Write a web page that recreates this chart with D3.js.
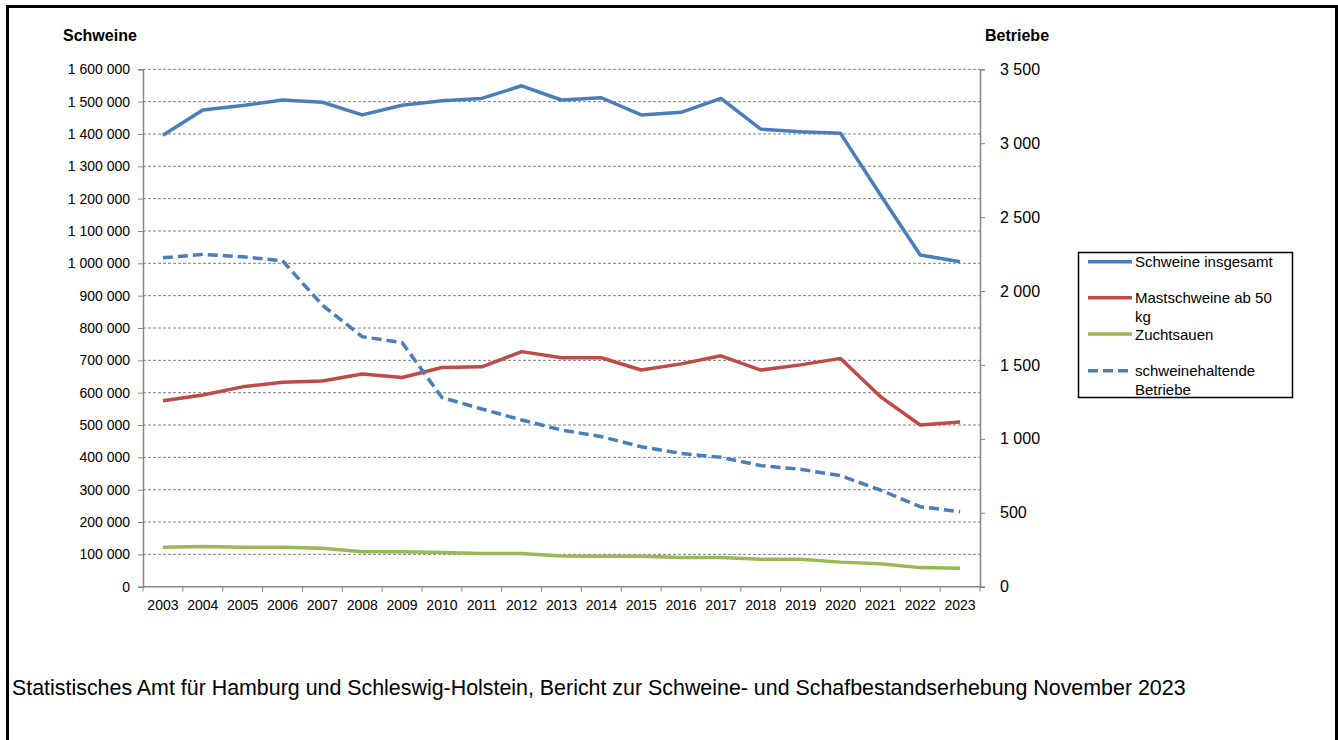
<!DOCTYPE html>
<html>
<head>
<meta charset="utf-8">
<script src="https://cdn.jsdelivr.net/npm/d3@7"></script>
<style>
  body { margin: 0; background: #fff; }
  svg text { font-family: "Liberation Sans", Arial, sans-serif; fill: #000; }
</style>
</head>
<body>
<div id="chart"></div>
<script>
// data
var years = ["2003","2004","2005","2006","2007","2008","2009","2010","2011","2012","2013",
             "2014","2015","2016","2017","2018","2019","2020","2021","2022","2023"]

var schweineInsgesamt = [1396000, 1474000, 1488000, 1505000, 1498000, 1459000, 1489000, 1503000,
                         1510000, 1549000, 1505000, 1512000, 1459000, 1467000, 1510000, 1415000,
                         1407000, 1402000, 1212000, 1026000, 1005000]
var mastschweine = [575000, 593000, 618000, 632000, 636000, 658000, 647000, 678000, 680000, 727000,
                    708000, 708000, 670000, 689000, 714000, 670000, 686000, 706000, 588000, 500000, 509000]
var zuchtsauen = [122000, 124000, 122000, 122000, 119000, 108000, 108000, 106000, 103000, 103000,
                  95000, 94000, 94000, 90000, 90000, 85000, 85000, 76000, 71000, 59000, 57000]
var betriebe = [2225, 2248, 2232, 2205, 1905, 1691, 1651, 1280, 1202, 1128, 1060, 1015, 947, 902,
                875, 819, 794, 751, 654, 541, 507]

var leftTicks = d3.range(0, 1600001, 100000)
var rightTicks = d3.range(0, 3501, 500)

var legendLabels = [["Schweine insgesamt"], ["Mastschweine ab 50", "kg"], ["Zuchtsauen"],
                    ["schweinehaltende", "Betriebe"]]

var width = 1338,
    height = 740,
    plotLeft = 143,
    plotRight = 980,
    plotTop = 69.3,
    plotBottom = 586.7

var blue = "#4a7ebb", red = "#be4b48", green = "#98b954"

var svg = d3.select("#chart")
  .append("svg")
    .attr("width", width)
    .attr("height", height)

// frame round the whole picture
svg.append("rect")
  .attr("x", 7.5).attr("y", 6.5)
  .attr("width", 1329).attr("height", 745)
  .attr("fill", "none")
  .attr("stroke", "#000")
  .attr("stroke-width", 3)

var x = d3.scaleBand()
  .domain(years)
  .range([plotLeft, plotRight])

var yLeft = d3.scaleLinear()
  .domain([0, 1600000])
  .range([plotBottom, plotTop])

var yRight = d3.scaleLinear()
  .domain([0, 3500])
  .range([plotBottom, plotTop])

var de = d3.formatLocale({decimal: ",", thousands: " ", grouping: [3], currency: ["", ""]})
var fmt = de.format(",d")

// dashed gridlines
svg.append("g")
  .selectAll("line")
  .data(leftTicks.filter(function(d) { return d > 0 }))
  .enter()
  .append("line")
    .attr("x1", plotLeft).attr("x2", plotRight)
    .attr("y1", function(d) { return yLeft(d) })
    .attr("y2", function(d) { return yLeft(d) })
    .attr("stroke", "#808080")
    .attr("stroke-width", 1)
    .attr("stroke-dasharray", "3,2")

// left axis
var gLeft = svg.append("g")
  .attr("transform", "translate(" + plotLeft + ",0)")
  .call(d3.axisLeft(yLeft).tickValues(leftTicks).tickFormat(fmt).tickSize(5).tickPadding(8))
gLeft.selectAll("text").style("font-size", "14px")

// right axis
var gRight = svg.append("g")
  .attr("transform", "translate(" + plotRight + ",0)")
  .call(d3.axisRight(yRight).tickValues(rightTicks).tickFormat(fmt).tickSize(5).tickPadding(15))
gRight.selectAll("text").style("font-size", "16px")

// bottom axis, ticks sit between the categories
var gBottom = svg.append("g")
  .attr("transform", "translate(0," + plotBottom + ")")
  .call(d3.axisBottom(x).tickSize(0).tickPadding(13))
gBottom.selectAll("text").style("font-size", "14px")
gBottom.selectAll(".tick line").remove()
gBottom.selectAll("line.sep")
  .data(years.concat(["end"]))
  .enter()
  .append("line")
    .attr("class", "sep")
    .attr("x1", function(d) { return d == "end" ? plotRight : x(d) })
    .attr("x2", function(d) { return d == "end" ? plotRight : x(d) })
    .attr("y1", 0).attr("y2", 5)
    .attr("stroke", "#868686")

svg.selectAll(".domain, .tick line")
  .attr("stroke", "#868686")
  .attr("stroke-width", 1.5)
svg.selectAll(".tick line").attr("stroke-width", 1)
gBottom.select(".domain").attr("d", "M" + plotLeft + ",0H" + plotRight)

// axis titles
svg.append("text")
  .attr("x", 63).attr("y", 41)
  .style("font-size", "16px").style("font-weight", "bold")
  .text("Schweine")
svg.append("text")
  .attr("x", 985).attr("y", 41)
  .style("font-size", "16px").style("font-weight", "bold")
  .text("Betriebe")

var cx = function(d, i) { return x(years[i]) + x.bandwidth() / 2 }

var lineLeft = d3.line().x(cx).y(function(d) { return yLeft(d) })
var lineRight = d3.line().x(cx).y(function(d) { return yRight(d) })

var series = [
  {values: zuchtsauen, color: green, line: lineLeft, dash: null},
  {values: mastschweine, color: red, line: lineLeft, dash: null},
  {values: schweineInsgesamt, color: blue, line: lineLeft, dash: null},
  {values: betriebe, color: blue, line: lineRight, dash: "10,5"}
]

svg.append("g")
  .selectAll("path")
  .data(series)
  .enter()
  .append("path")
    .attr("d", function(d) { return d.line(d.values) })
    .attr("fill", "none")
    .attr("stroke", function(d) { return d.color })
    .attr("stroke-width", 3.5)
    .attr("stroke-linejoin", "round")
    .attr("stroke-dasharray", function(d) { return d.dash })

// legend
var legend = svg.append("g")
legend.append("rect")
  .attr("x", 1078.5).attr("y", 252.5)
  .attr("width", 214).attr("height", 145)
  .attr("fill", "#fff")
  .attr("stroke", "#000")
  .attr("stroke-width", 1.5)

var legendItems = [
  {color: blue, dash: null, y: 261.7},
  {color: red, dash: null, y: 297.7},
  {color: green, dash: null, y: 334},
  {color: blue, dash: "10,5", y: 370.7}
]

legendItems.forEach(function(item, i) {
  legend.append("line")
    .attr("x1", 1088).attr("x2", 1132)
    .attr("y1", item.y).attr("y2", item.y)
    .attr("stroke", item.color)
    .attr("stroke-width", 3.5)
    .attr("stroke-dasharray", item.dash)
  legendLabels[i].forEach(function(t, j) {
    legend.append("text")
      .attr("x", 1135)
      .attr("y", item.y + 5.5 + j * 18.5)
      .style("font-size", "15px")
      .text(t)
  })
})

// source line
svg.append("text")
  .attr("x", 12).attr("y", 695)
  .style("font-size", "21.4px")
  .text("Statistisches Amt für Hamburg und Schleswig-Holstein, Bericht zur Schweine- und Schafbestandserhebung November 2023")
</script>
</body>
</html>
